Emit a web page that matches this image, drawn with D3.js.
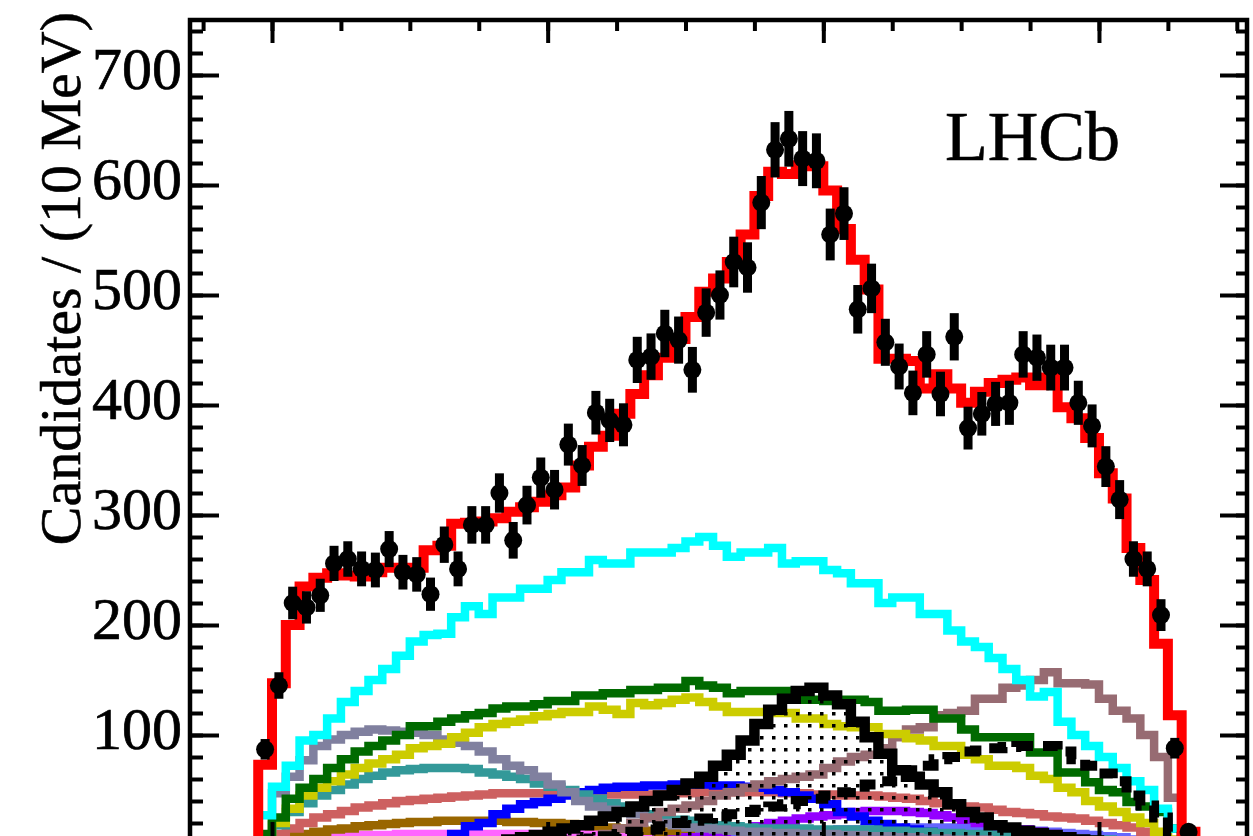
<!DOCTYPE html>
<html>
<head>
<meta charset="utf-8">
<script src="https://cdn.jsdelivr.net/npm/d3@7"></script>
<style>
  body { margin: 0; background: #fff; }
  svg { display: block; }
  text { font-family: "Liberation Serif", "Times New Roman", serif; fill: #000; }
</style>
</head>
<body>
<div id="chart"></div>
<script>
// Bins: 10 MeV wide, first edge at 2.19 GeV
const binStart = 2.19, binWidth = 0.01;

// Data (candidates per bin)
const data = [87,145,220,216,227,256,260,251,250,269,248,246,228,273,251,291,291,320,277,309,
  334,323,364,345,393,386,382,441,444,465,459,432,484,500,530,525,584,632,642,624,
  622,555,574,487,506,457,435,411,446,410,462,379,392,401,402,446,443,434,434,402,
  381,344,314,260,251,209,88,12];

// Fit components
const total = [73,147,200,235,243,247,245,244,248,252,252,252,268,272,292,293,294,297,303,307,
  312,318,325,345,362,372,392,410,427,443,460,480,503,515,530,555,590,612,610,618,
  617,595,560,532,505,442,442,440,415,428,415,402,412,420,423,425,418,425,398,388,
  370,338,315,270,241,183,118,12];
const cyan = [27,53,72,95,100,115,130,140,150,160,172,185,191,192,207,217,210,225,225,233,
  233,241,248,248,259,256,256,266,266,266,270,276,280,272,262,266,266,270,256,258,
  258,250,247,238,238,220,225,225,210,210,195,185,180,170,160,150,135,139,112,100,
  90,80,70,58,50,33,15,0];
const green = [10,25,42,52,60,70,78,85,90,95,100,108,108,112,115,118,120,124,126,126,
  128,131,131,136,136,138,138,141,141,143,143,149,145,143,138,140,140,140,140,132,
  132,131,132,132,130,122,122,123,123,115,115,105,98,98,98,98,84,84,66,66,
  57,50,48,39,35,30,15,0];
const yellow = [8,20,33,45,52,58,64,70,74,78,82,88,90,92,98,102,107,110,112,114,
  117,119,121,121,126,123,119,129,127,129,132,134,130,126,121,121,121,120,120,115,
  115,110,108,107,107,101,101,97,95,90,90,82,78,72,72,70,63,60,52,48,
  40,35,30,25,20,12,5,0];
const lavender = [0,47,62,77,90,96,100,103,105,104,103,102,100,96,93,90,85,78,72,68,
  62,55,48,40,35,32,30,28,24,20,18,16,15,14,13,12,12,11,11,10,
  10,10,9,9,8,8,7,7,6,6,5,5,5,4,4,4,3,3,3,2,
  2,2,1,1,1,1,0,0];
const teal = [5,18,30,38,45,50,55,60,63,66,68,69,70,70,70,69,66,64,62,60,
  56,53,50,46,42,38,35,32,28,25,23,22,20,18,17,16,15,15,15,15,
  14,14,14,14,14,13,13,12,12,11,11,10,10,9,9,8,8,7,6,6,
  5,5,4,3,3,2,1,0];
const indianRed = [5,10,15,20,25,28,31,34,36,38,40,41,42,43,44,45,46,47,47,47,
  47,46,46,46,46,46,46,46,46,46,47,47,48,48,48,48,48,48,47,47,
  46,46,45,45,45,44,43,42,40,38,36,35,34,32,30,29,28,26,25,24,
  22,20,18,16,12,8,4,0];
const brown = [2,5,8,10,12,14,15,17,18,19,20,21,21,22,22,22,22,22,21,21,
  20,20,19,18,17,16,15,14,13,12,11,10,9,8,8,7,7,6,6,5,
  5,5,4,4,4,3,3,3,3,2,2,2,2,2,1,1,1,1,1,1,
  0,0,0,0,0,0,0,0];
const magenta = [1,3,5,6,7,8,8,9,9,9,10,10,10,10,10,10,10,10,10,10,
  10,10,10,10,10,10,10,10,10,10,10,10,10,10,10,10,10,10,10,10,
  10,10,10,10,10,10,10,9,9,9,9,8,8,8,8,7,7,7,6,6,
  5,5,4,4,3,2,1,0];
const blue = [0,0,0,0,0,0,0,0,0,0,0,0,1,3,10,17,20,28,33,37,
  39,42,45,48,50,52,53,53,54,54,55,55,55,54,54,53,52,50,48,45,
  42,37,30,26,22,19,16,14,12,10,8,7,6,5,4,3,3,2,2,1,
  1,1,0,0,0,0,0,0];
const mauve = [0,0,0,0,0,0,0,0,0,0,0,0,0,0,0,0,0,0,0,0,
  0,0,0,0,0,10,15,20,25,30,33,36,40,45,48,52,55,58,60,62,
  64,70,76,80,82,88,98,105,107,118,120,122,133,133,143,145,150,157,147,147,
  146,133,122,115,100,80,43,0];
const signal = [0,0,0,0,0,0,0,0,0,0,0,0,0,0,0,1,2,3,5,7,
  9,12,15,18,22,26,30,35,40,45,50,56,62,72,82,95,110,123,133,140,
  143,136,128,112,98,83,68,62,55,48,37,30,25,18,16,13,11,9,7,5,
  4,3,2,1,0,0,0,0];
const dashedBlack = [0,0,0,0,0,0,0,0,0,0,0,0,0,0,0,0,0,0,0,0,
  2,3,4,5,6,8,10,12,14,17,20,22,24,26,28,30,32,35,37,40,
  42,45,48,53,55,58,62,68,72,78,80,85,86,88,89,90,90,90,85,78,
  72,65,58,45,36,25,12,0];
const purple = [0,0,0,0,0,0,0,0,0,0,0,0,0,0,0,0,0,0,0,0,
  0,0,0,0,0,0,0,0,0,0,5,7,9,11,13,15,17,20,22,24,
  26,27,28,30,31,31,31,30,29,27,25,23,20,18,16,14,12,10,8,6,
  5,4,3,2,1,0,0,0];
const periwinkle = [0,0,0,0,0,0,0,0,0,0,0,0,0,0,0,0,0,0,0,0,
  0,0,0,0,0,0,0,0,1,2,3,4,5,6,7,8,9,10,11,12,
  13,13,14,14,15,15,15,16,16,16,16,16,15,15,14,14,13,12,11,10,
  9,8,7,5,4,3,1,0];
const seaGreen = [0,0,0,0,0,0,0,0,0,0,0,0,0,0,0,0,0,0,0,0,
  2,3,4,5,6,7,7,8,8,8,8,8,8,8,8,8,8,8,8,8,
  8,8,8,8,8,8,7,7,7,7,6,6,6,5,5,5,4,4,3,3,
  2,2,2,1,1,1,0,0];

// Axis ticks (the "0" label and the x labels lie below the visible crop)
const yLabelled = [100,200,300,400,500,600,700];
const yMajor = [0,100,200,300,400,500,600,700];
const yMinor = d3.range(0, 751, 20);
const xMajor = [2.2,2.4,2.6,2.8];
const xMinor = [2.15,2.2,2.25,2.3,2.35,2.4,2.45,2.5,2.55,2.6,2.65,2.7,2.75,2.8,2.85,2.9];

const width = 1253, height = 836;
const frame = { left: 190, right: 1247, top: 20, bottom: 845 };

const x = d3.scaleLinear().domain([2.1405, 2.9074]).range([frame.left, frame.right]);
const y = d3.scaleLinear().domain([0, 750]).range([frame.bottom, frame.top]);

const svg = d3.select("#chart").append("svg")
    .attr("width", width)
    .attr("height", height);

const defs = svg.append("defs");
defs.append("clipPath").attr("id", "plotclip")
  .append("rect")
    .attr("x", frame.left).attr("y", frame.top)
    .attr("width", frame.right - frame.left).attr("height", frame.bottom - frame.top);

// dotted fill for the signal component
const pat = defs.append("pattern").attr("id", "dots")
    .attr("patternUnits", "userSpaceOnUse")
    .attr("width", 12).attr("height", 12);
pat.append("rect").attr("x", 4).attr("y", 4).attr("width", 3.5).attr("height", 3.5).attr("fill", "#000");

// step points for a histogram
function steps(vals) {
  const pts = [[x.domain()[0], 0], [binStart, 0]];
  vals.forEach((v, i) => {
    pts.push([binStart + i * binWidth, v]);
    pts.push([binStart + (i + 1) * binWidth, v]);
  });
  pts.push([binStart + vals.length * binWidth, 0]);
  pts.push([x.domain()[1], 0]);
  return pts;
}

const line = d3.line().x(d => x(d[0])).y(d => y(d[1]));
const area = d3.area().x(d => x(d[0])).y0(y(0)).y1(d => y(d[1]));

const plot = svg.append("g").attr("clip-path", "url(#plotclip)");

const components = [
  { vals: seaGreen, color: "#669966" },
  { vals: magenta, color: "#ff66ff" },
  { vals: brown, color: "#996600" },
  { vals: periwinkle, color: "#6666ff" },
  { vals: purple, color: "#9400ff" },
  { vals: indianRed, color: "#cd6060" },
  { vals: blue, color: "#0000ff" },
  { vals: teal, color: "#339999" },
  { vals: lavender, color: "#80809f" },
  { vals: mauve, color: "#976b72" },
  { vals: yellow, color: "#cccc00" },
  { vals: green, color: "#006a00" },
  { vals: cyan, color: "#00ffff" }
];

components.forEach(c => {
  plot.append("path")
    .attr("d", line(steps(c.vals)))
    .attr("fill", "none")
    .attr("stroke", c.color)
    .attr("stroke-width", 8.5);
});

// dashed black component
plot.append("path")
  .attr("d", line(steps(dashedBlack)))
  .attr("fill", "none")
  .attr("stroke", "#000")
  .attr("stroke-width", 10)
  .attr("stroke-dasharray", "18,10");

// signal: dotted fill + thick black outline
plot.append("path")
  .attr("d", area(steps(signal)))
  .attr("fill", "url(#dots)");
plot.append("path")
  .attr("d", line(steps(signal)))
  .attr("fill", "none")
  .attr("stroke", "#000")
  .attr("stroke-width", 10.5);

// total fit
plot.append("path")
  .attr("d", line(steps(total)))
  .attr("fill", "none")
  .attr("stroke", "#ff0000")
  .attr("stroke-width", 10);

// data points with error bars
const pts = plot.append("g");
pts.selectAll("rect")
  .data(data)
  .enter()
  .append("rect")
    .attr("x", (d, i) => x(binStart + (i + 0.5) * binWidth) - 4.5)
    .attr("y", d => y(d + Math.sqrt(d)))
    .attr("width", 9)
    .attr("height", d => y(d - Math.sqrt(d)) - y(d + Math.sqrt(d)))
    .attr("fill", "#000");
pts.selectAll("circle")
  .data(data)
  .enter()
  .append("circle")
    .attr("cx", (d, i) => x(binStart + (i + 0.5) * binWidth))
    .attr("cy", d => y(d))
    .attr("r", 9)
    .attr("fill", "#000");

// Axes
function styleAxis(g) {
  g.select(".domain").remove();
  g.selectAll(".tick line").attr("stroke", "#000").attr("stroke-width", 4);
}

svg.append("g")
  .attr("transform", `translate(${frame.left},0)`)
  .call(d3.axisLeft(y).tickValues(yMinor).tickSize(-13).tickFormat(""))
  .call(styleAxis);
svg.append("g")
  .attr("transform", `translate(${frame.left},0)`)
  .call(d3.axisLeft(y).tickValues(yMajor).tickSize(-29).tickFormat(""))
  .call(styleAxis);
svg.append("g")
  .attr("transform", `translate(${frame.left},0)`)
  .call(d3.axisLeft(y).tickValues(yLabelled).tickSize(0).tickPadding(8).tickFormat(d3.format("d")))
  .call(styleAxis)
  .call(g => g.selectAll(".tick text")
    .attr("font-size", 60)
    .attr("font-family", "Liberation Serif, Times New Roman, serif")
    .attr("stroke", "#000")
    .attr("stroke-width", 0.7)
    .attr("dy", "0.22em"));

svg.append("g")
  .attr("transform", `translate(${frame.right},0)`)
  .call(d3.axisRight(y).tickValues(yMinor).tickSize(-11).tickFormat(""))
  .call(styleAxis);
svg.append("g")
  .attr("transform", `translate(${frame.right},0)`)
  .call(d3.axisRight(y).tickValues(yMajor).tickSize(-27).tickFormat(""))
  .call(styleAxis);

svg.append("g")
  .attr("transform", `translate(0,${frame.top})`)
  .call(d3.axisTop(x).tickValues(xMinor).tickSize(-11).tickFormat(""))
  .call(styleAxis);
svg.append("g")
  .attr("transform", `translate(0,${frame.top})`)
  .call(d3.axisTop(x).tickValues(xMajor).tickSize(-23).tickFormat(""))
  .call(styleAxis);

svg.append("g")
  .attr("transform", `translate(0,${frame.bottom})`)
  .call(d3.axisBottom(x).tickValues(xMajor).tickSize(-23).tickFormat(""))
  .call(styleAxis);

// frame
svg.append("rect")
  .attr("x", frame.left).attr("y", frame.top)
  .attr("width", frame.right - frame.left).attr("height", frame.bottom - frame.top)
  .attr("fill", "none")
  .attr("stroke", "#000")
  .attr("stroke-width", 4.5);

// y-axis title
svg.append("text")
  .attr("transform", "translate(80,12) rotate(-90)")
  .attr("text-anchor", "end")
  .attr("font-size", 58)
  .attr("stroke", "#000")
  .attr("stroke-width", 0.6)
  .text("Candidates / (10 MeV)");

// LHCb label
svg.append("text")
  .attr("x", 945)
  .attr("y", 160)
  .attr("font-size", 70)
  .attr("stroke", "#000")
  .attr("stroke-width", 0.6)
  .text("LHCb");
</script>
</body>
</html>
